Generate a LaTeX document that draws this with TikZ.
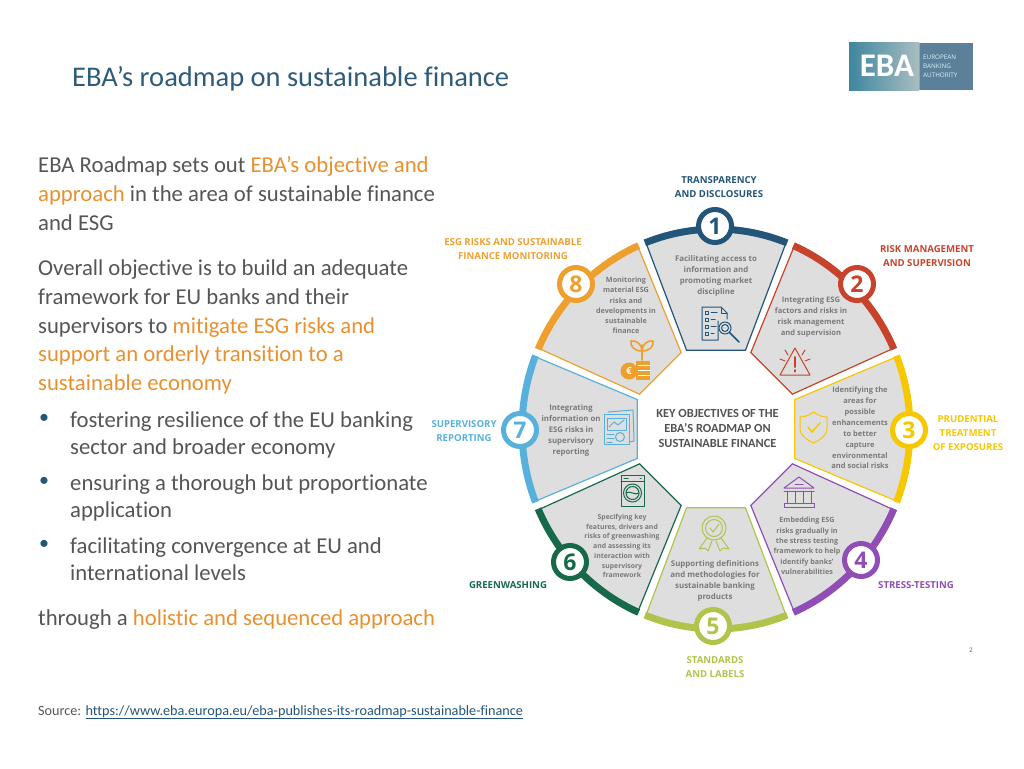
\documentclass[tikz,border=0pt]{standalone}
\usepackage{fontspec}
\setmainfont[Ligatures=NoCommon]{Carlito}
\newfontfamily\opensans{Open Sans}
\usepackage{xcolor}
\definecolor{colA}{HTML}{235578}
\definecolor{colB}{HTML}{C8432B}
\definecolor{colC}{HTML}{F7C700}
\definecolor{colD}{HTML}{8F4DB5}
\definecolor{colE}{HTML}{B0C44C}
\definecolor{colF}{HTML}{17694A}
\definecolor{colG}{HTML}{58B0DC}
\definecolor{colH}{HTML}{EEA02E}
\definecolor{bodytxt}{HTML}{555555}
\definecolor{accent}{HTML}{E8902F}
\definecolor{titleblue}{HTML}{2F5B7B}
\definecolor{segfill}{HTML}{DEDEDE}
\definecolor{logoleft}{HTML}{3E86A0}
\definecolor{logomid}{HTML}{A9BDC0}
% one segment of the wheel: colour, middle angle
\newcommand{\wheelseg}[2]{%
	\path[shift={(716,429)},fill=segfill,draw=#1,line width=1.2pt,line join=miter]
		({#2+20.5}:84pt and 84pt) -- ({#2+21.2}:194pt and 200pt)
		arc[start angle=#2+21.2,end angle=#2-21.2,x radius=194pt,y radius=200pt]
		-- ({#2-20.5}:84pt and 84pt) -- cycle;
	\draw[shift={(716,429)},draw=#1,line width=7pt]
		({#2+21.5}:194pt and 200pt) arc[start angle=#2+21.5,end angle=#2-21.5,x radius=194pt,y radius=200pt];
}
\begin{document}
\begin{tikzpicture}[%
			x=1pt,y=-1pt,
			every node/.style={inner sep=0pt,align=center},
			body/.style={anchor=north west,align=left,text=bodytxt,font=\fontsize{22.7}{28.8}\selectfont},
			bullettxt/.style={body,font=\fontsize{22.7}{27.3}\selectfont},
			bulletmark/.style={text=colA,font=\fontsize{20}{20}\selectfont},
			num/.style={circle,draw=#1,fill=white,line width=5pt,minimum size=33pt,text=#1,font=\opensans\fontsize{23}{23}\selectfont\bfseries},
			tag/.style={text=#1,font=\opensans\fontsize{9.6}{13.6}\selectfont\bfseries},
			segtxt/.style 2 args={text=black!52,font=\opensans\fontsize{#1}{#2}\selectfont\bfseries},
			icon/.style={draw=#1,line width=1pt,line join=round,line cap=round}
			]
			\useasboundingbox (0,0) rectangle (1024,768);
			% heading
			\node[anchor=base west,text=titleblue,font=\fontsize{28.5}{30}\selectfont] (title) at (72,86) {EBA’s roadmap on sustainable finance};
			% logo
			\path[left color=logoleft,right color=logomid] (849,43) rectangle (919,90);
			\fill[fill=colA!75!white] (920,43) rectangle (973,90);
			\fill[accent] (919,43) rectangle (920.2,90);
			\node[anchor=base,text=white,font=\fontsize{33}{33}\selectfont\bfseries] (logoname) at (887,77) {EBA};
			\node[anchor=west,align=left,text=white!85!cyan,font=\opensans\fontsize{6.3}{8.8}\selectfont] (logotext) at (923,66.5) {EUROPEAN\\BANKING\\AUTHORITY};
			% left column
			\node[body] (para1) at (38,156.5) {EBA Roadmap sets out \textcolor{accent}{EBA’s objective and}\\\textcolor{accent}{approach} in the area of sustainable finance\\and ESG};
			\node[body] (para2) at (38,259.5) {Overall objective is to build an adequate\\framework for EU banks and their\\supervisors to \textcolor{accent}{mitigate ESG risks and}\\\textcolor{accent}{support an orderly transition to a}\\\textcolor{accent}{sustainable economy}};
			\node[bulletmark] (dot1) at (44,419) {•};
			\node[bullettxt] (item1) at (70,411.5) {fostering resilience of the EU banking\\sector and broader economy};
			\node[bulletmark] (dot2) at (44,482) {•};
			\node[bullettxt] (item2) at (70,474.5) {ensuring a thorough but proportionate\\application};
			\node[bulletmark] (dot3) at (44,545) {•};
			\node[bullettxt] (item3) at (70,537.5) {facilitating convergence at EU and\\international levels};
			\node[body] (para3) at (38,609.5) {through a \textcolor{accent}{holistic and sequenced approach}};
			\node[anchor=base west,text=bodytxt,font=\fontsize{14.2}{15}\selectfont] (source) at (38,715) {Source: \textcolor{colA}{\underline{https://www.eba.europa.eu/eba-publishes-its-roadmap-sustainable-finance}}};
			\node[text=black!60,font=\fontsize{7}{8}\selectfont] (pageno) at (971,650) {2};
			% wheel
			\wheelseg{colA}{90}
			\wheelseg{colB}{45}
			\wheelseg{colC}{0}
			\wheelseg{colD}{-45}
			\wheelseg{colE}{-90}
			\wheelseg{colF}{-135}
			\wheelseg{colG}{180}
			\wheelseg{colH}{135}
			\node[text=black!68,font=\fontsize{12.4}{15}\selectfont\bfseries] (hub) at (717.5,428) {KEY OBJECTIVES OF THE\\EBA’S ROADMAP ON\\SUSTAINABLE FINANCE};
			\node[num=colA] (n1) at (715,226) {1};
			\node[num=colB] (n2) at (857,284) {2};
			\node[num=colC] (n3) at (909,430) {3};
			\node[num=colD] (n4) at (861,560) {4};
			\node[num=colE] (n5) at (713,626) {5};
			\node[num=colF] (n6) at (570,562) {6};
			\node[num=colG] (n7) at (520,430) {7};
			\node[num=colH] (n8) at (576,284) {8};
			% outer labels
			\node[tag=colA] (lab1) at (719,187) {TRANSPARENCY\\AND DISCLOSURES};
			\node[tag=colB] (lab2) at (927,256) {RISK MANAGEMENT\\AND SUPERVISION};
			\node[tag=colC] (lab3) at (968,433) {PRUDENTIAL\\TREATMENT\\OF EXPOSURES};
			\node[tag=colD] (lab4) at (916,585) {STRESS-TESTING};
			\node[tag=colE] (lab5) at (715,667) {STANDARDS\\AND LABELS};
			\node[tag=colF] (lab6) at (508,585) {GREENWASHING};
			\node[tag=colG] (lab7) at (464,431) {SUPERVISORY\\REPORTING};
			\node[tag=colH] (lab8) at (513,249) {ESG RISKS AND SUSTAINABLE\\FINANCE MONITORING};
			% segment texts
			\node[segtxt={7.9}{11}] (txt1) at (716,276) {Facilitating access to\\information and\\promoting market\\discipline};
			\node[segtxt={7.6}{10.7}] (txt2) at (811,317) {Integrating ESG\\factors and risks in\\risk management\\and supervision};
			\node[segtxt={7.5}{10.9}] (txt3) at (860,428) {Identifying the\\areas for\\possible\\enhancements\\to better\\capture\\environmental\\and social risks};
			\node[segtxt={7.2}{10.4}] (txt4) at (807,546) {Embedding ESG\\risks gradually in\\the stress testing\\framework to help\\identify banks’\\vulnerabilities};
			\node[segtxt={7.9}{11}] (txt5) at (715,580.5) {Supporting definitions\\and methodologies for\\sustainable banking\\products};
			\node[segtxt={6.9}{9.7}] (txt6) at (622,546) {Specifying key\\features, drivers and\\risks of greenwashing\\and assessing its\\interaction with\\supervisory\\framework};
			\node[segtxt={7.8}{11}] (txt7) at (571,430) {Integrating\\information on\\ESG risks in\\supervisory\\reporting};
			\node[segtxt={7.2}{10.2}] (txt8) at (626,305.5) {Monitoring\\material ESG\\risks and\\developments in\\sustainable\\finance};
			% icon 1, checklist and lens
			\draw[icon=colA] (718,321) -- (718,340) -- (702,340) -- (702,307) -- (721,307) -- (727,313) -- (727,319);
			\draw[icon=colA] (721,307) -- (721,313) -- (727,313);
			\draw[icon=colA] (705,311) rectangle (708,314) (705,318) rectangle (708,321) (705,325) rectangle (708,328) (705,332) rectangle (708,335);
			\draw[icon=colA] (711,312.5) -- (717,312.5) (711,319.5) -- (715,319.5) (711,326.5) -- (716,326.5) (711,333.5) -- (714,333.5);
			\draw[icon=colA] (725,328) circle[radius=6] (725,328) circle[radius=3.5];
			\draw[icon=colA,line width=1.6pt] (729.5,332.5) -- (739,342);
			% icon 2, warning
			\draw[icon=colB] (795,348) -- (810,375) -- (780,375) -- cycle;
			\draw[icon=colB,line width=2pt] (795,357) -- (795,367) (795,370) -- (795,371.5);
			\draw[icon=colB] (785,350) -- (788,355) (805,350) -- (802,355) (780,359) -- (785,361) (810,359) -- (805,361);
			% icon 3, shield
			\draw[icon=colC] (813.5,412) .. controls (808,416) and (804,417) .. (800,417) -- (800,428) .. controls (800,436) and (807,440) .. (813.5,443) .. controls (820,440) and (827,436) .. (827,428) -- (827,417) .. controls (823,417) and (819,416) .. (813.5,412) -- cycle;
			\draw[icon=colC,line width=1.5pt] (808,427) -- (812,432) -- (820,423);
			% icon 4, bank
			\draw[icon=colD] (799,477) -- (814,488) -- (784,488) -- cycle;
			\draw[icon=colD] (795,484) -- (803,484);
			\draw[icon=colD] (784,491) -- (814,491) (787,491) -- (787,503) (795,491) -- (795,503) (803,491) -- (803,503) (811,491) -- (811,503);
			\draw[icon=colD] (784,507) -- (784,503) -- (814,503) -- (814,507) -- cycle;
			% icon 5, rosette
			\draw[icon=colE] (714,528) circle[radius=12] (714,528) circle[radius=8.5];
			\draw[icon=colE] (710,528) -- (713,532) -- (719,524);
			\draw[icon=colE] (707,538) -- (699,549) -- (705,548) -- (708,551) -- (712,541);
			\draw[icon=colE] (721,538) -- (729,549) -- (723,548) -- (720,551) -- (716,541);
			% icon 6, washing machine
			\draw[icon=colF] (621,475) rectangle (644,506);
			\draw[icon=colF] (621,481) -- (644,481) (624,478) -- (628,478) (640,478) -- (641,478);
			\draw[icon=colF] (632.5,493) circle[radius=9] (632.5,493) circle[radius=6.5];
			\draw[icon=colF] (626,493) .. controls (630,490) and (635,496) .. (639,493);
			% icon 7, report sheets
			\draw[icon=colG] (608,412) -- (633,410) -- (634,441) -- (630,442);
			\draw[icon=colG] (604,414) rectangle (629,444);
			\draw[icon=colG] (607,418) rectangle (626,430);
			\draw[icon=colG] (609,427) -- (614,422) -- (618,425) -- (624,420);
			\draw[icon=colG] (607,434) -- (614,434) (607,438) -- (614,438) (607,442) -- (612,442);
			\draw[icon=colG] (620,437) circle[radius=4.5];
			% icon 8, plant and coins
			\draw[icon=colH,line width=1.6pt] (642,360) -- (642,345);
			\draw[icon=colH,line width=1.6pt] (642,351) .. controls (634,351) and (630,346) .. (631,341) .. controls (637,340) and (642,345) .. (642,351);
			\draw[icon=colH,line width=1.6pt] (642,351) .. controls (650,351) and (654,346) .. (653,341) .. controls (647,340) and (642,345) .. (642,351);
			\fill[colH] (636,361) rectangle (650,380);
			\draw[white,line width=1pt] (638,365) -- (650,365) (638,370) -- (650,370) (638,375) -- (650,375);
			\fill[colH] (629,371) circle[radius=8.5];
			\node[text=white,font=\opensans\fontsize{10}{10}\selectfont\bfseries] (euro) at (629,371) {€};
		\end{tikzpicture}
\end{document}
